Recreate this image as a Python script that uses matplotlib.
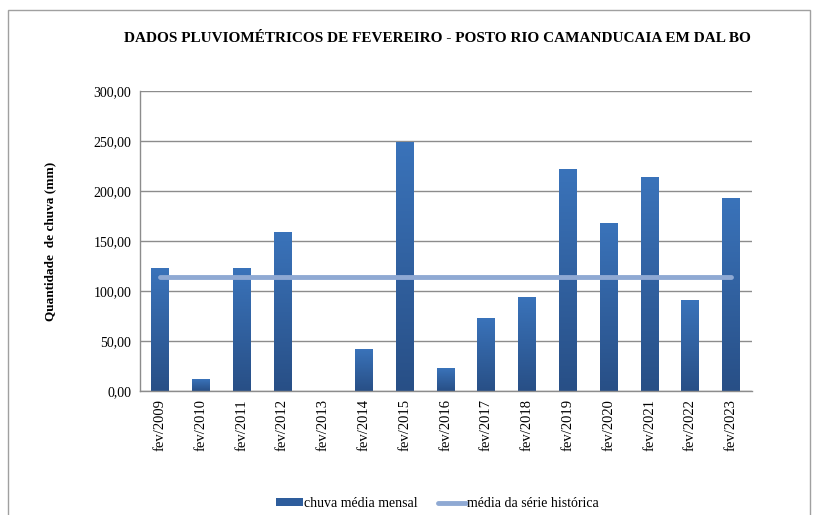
import numpy as np
import matplotlib.pyplot as plt
from matplotlib.patches import Rectangle
from matplotlib.colors import LinearSegmentedColormap

plt.rcParams['font.family'] = ['Liberation Serif', 'DejaVu Serif']

anos = ['fev/2009', 'fev/2010', 'fev/2011', 'fev/2012', 'fev/2013',
        'fev/2014', 'fev/2015', 'fev/2016', 'fev/2017', 'fev/2018',
        'fev/2019', 'fev/2020', 'fev/2021', 'fev/2022', 'fev/2023']
chuva = [123, 12, 123, 159, 0, 42, 249, 23, 73, 94, 222, 168, 214, 91, 193]
media_historica = [114] * len(anos)
yticks = [0, 50, 100, 150, 200, 250, 300]

fig = plt.figure(figsize=(8.17, 5.15), dpi=100)
ax = fig.add_axes([0.171, 0.2408, 0.749, 0.5825])

# moldura externa do grafico
fig.patches.append(Rectangle((8 / 817, -0.05), 802 / 817, 1 - 10 / 515 + 0.05,
                             transform=fig.transFigure, fill=False,
                             edgecolor='#a0a0a0', lw=1.0))

x = np.arange(len(anos))
bars = ax.bar(x, chuva, width=0.44, color='#2e5d9c', zorder=2,
              label='chuva média mensal')

# degradê vertical nas barras
cmap = LinearSegmentedColormap.from_list('azul', ['#284f86', '#3a73ba'])
grad = np.linspace(0, 1, 256).reshape(-1, 1)
for b in bars:
    h = b.get_height()
    if h <= 0:
        continue
    im = ax.imshow(grad, cmap=cmap, origin='lower', aspect='auto', zorder=2.1,
                   extent=[b.get_x(), b.get_x() + b.get_width(), 0, h])
    im.set_clip_path(b)

linha, = ax.plot(x, media_historica, color='#8fa9d3', lw=3.5,
                 solid_capstyle='round', zorder=3,
                 label='média da série histórica')

ax.set_xlim(-0.5, len(anos) - 0.5)
ax.set_ylim(0, 300)
ax.set_yticks(yticks)
ax.set_yticklabels(['{:.2f}'.format(v).replace('.', ',') for v in yticks],
                   fontsize=10)
ax.set_xticks(x)
ax.set_xticklabels(anos, rotation=90, fontsize=10.5)
ax.tick_params(axis='both', length=0, pad=6)
ax.yaxis.grid(True, color='#8c8c8c', lw=1.0, zorder=0)
ax.set_axisbelow(True)
for s in ['top', 'right']:
    ax.spines[s].set_visible(False)
for s in ['left', 'bottom']:
    ax.spines[s].set_color('#8c8c8c')
    ax.spines[s].set_linewidth(1.0)

ax.set_ylabel('Quantidade  de chuva (mm)', fontsize=9.5, fontweight='bold',
              labelpad=27)

fig.text(0.535, 0.925, 'DADOS PLUVIOMÉTRICOS DE FEVEREIRO - POSTO RIO CAMANDUCAIA EM DAL BO',
         ha='center', va='center', fontsize=11, fontweight='bold')

fig.legend([bars, linha], ['chuva média mensal', 'média da série histórica'],
           loc='center', bbox_to_anchor=(0.535, 0.022), ncol=2,
           frameon=False, fontsize=10, handlelength=2.0, handleheight=0.5,
           handletextpad=0.05, columnspacing=1.5)

fig.savefig('out.png', dpi=100)
